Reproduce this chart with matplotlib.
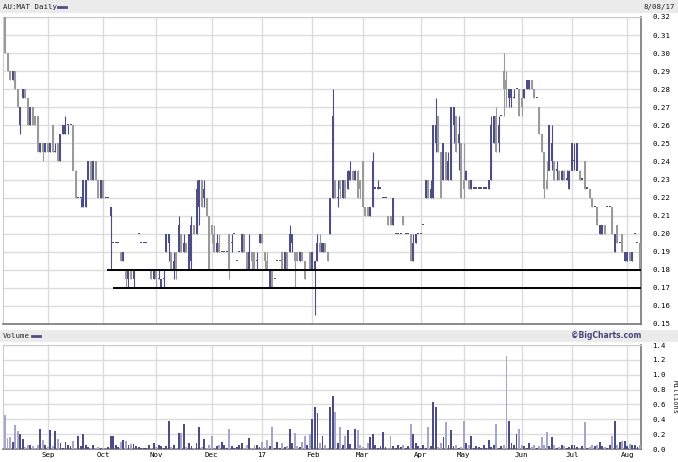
import numpy as np
import matplotlib
matplotlib.use('Agg')
import matplotlib.pyplot as plt

# daily OHLC in cents, one entry per trading day (9 Aug 2016 - 8 Aug 2017)
opens = [32, 30, 29, 28.5, 29, 28, 26, 27.5, 28, 27.5,
         26, 27, 26.5, 26.5, 24.5, 25, 24.5, 25, 24.5, 26,
         24.5, 25, 24, 25.5, 25.5, 26, 26, 26, 23.5, 22,
         22, 21.5, 21.5, 23, 24, 23, 24, 23, 22, 23,
         22, 22, 21, 19.5, 19.5, 19.5, 19, 18.5, 18, 17.5,
         18, 17.5, 18, 20, 19.5, 19.5, 19.5, 18, 18, 17.5,
         18, 17.5, 17, 17.5, 19, 19.5, 19, 18, 19, 19,
         20, 19, 19.5, 18, 18.5, 20.5, 20, 21.5, 23, 22,
         22, 21, 20.5, 20, 19, 19.5, 19, 19, 19, 20,
         19.5, 20, 18.5, 19, 19, 20, 19, 18, 19, 19,
         18.5, 19.5, 20, 19, 18.5, 17, 18, 17.5, 18.5, 18.5,
         19, 18, 19, 19, 19.5, 19, 19, 18.5, 19, 18.5,
         18, 19, 18, 18, 18.5, 19.5, 19, 19.5, 19, 20,
         22, 23, 22, 23, 22, 23, 22.5, 23, 23.5, 23,
         23.5, 23, 24, 21.5, 21.5, 21, 21.5, 22.5, 22.5, 22.5,
         22, 22, 21, 21, 20.5, 20, 20, 20, 21, 20,
         20, 20, 18.5, 19.5, 20, 20, 20.5, 22, 23, 22,
         22, 25, 26.5, 24.5, 23, 24.5, 23, 23, 26, 26.5,
         25, 25, 23, 23, 23, 22.5, 22.5, 22.5, 22.5, 22.5,
         22.5, 22.5, 22.5, 23, 25, 26.5, 25, 26.5, 29, 28.5,
         27.5, 27.5, 27.5, 28, 28, 27.5, 27.5, 28, 28, 28.5,
         28, 27.5, 27, 25.5, 24.5, 23, 23.5, 24, 24, 23.5,
         23.5, 23, 23.5, 23, 22.5, 23.5, 24, 23.5, 23.5, 23,
         24, 22.5, 22.5, 22, 21.5, 21.5, 20, 20, 20.5, 21.5,
         21.5, 21.5, 19, 20.5, 19.5, 20, 18.5, 18.5, 19, 18.5,
         20, 19.5, 19.5]
highs = [32, 30, 29, 29, 29, 28, 27, 28, 28, 27.5,
         27, 27, 26.5, 26.5, 25, 25, 25, 25, 25, 26,
         25, 25, 25.5, 26, 26.5, 26, 26, 26, 23.5, 22,
         22, 23, 23, 24, 24, 24, 24, 23, 23, 23,
         22, 22, 21.5, 19.5, 19.5, 19.5, 19, 19, 18, 18,
         18, 18, 18, 20, 19.5, 19.5, 19.5, 18, 18, 18,
         18, 18, 17.5, 18, 20, 20, 19, 19, 19, 21,
         20, 20, 19.5, 20, 21, 20.5, 23, 23, 23, 23,
         22, 21, 20.5, 20.5, 20, 20, 19, 19, 19, 20,
         20, 20, 18.5, 19, 20, 20, 19, 20, 19, 19,
         19, 20, 20, 19, 19, 18, 18, 17.5, 18.5, 18.5,
         19, 19, 19, 20.5, 20, 19, 19, 19, 19, 18.5,
         18, 19, 19, 18.5, 20, 20, 19.5, 19.5, 19, 22,
         28, 23, 23, 23, 23, 23, 23.5, 24, 23.5, 23.5,
         23.5, 23, 24, 21.5, 21.5, 21.5, 24.5, 22.5, 23, 22.5,
         22, 22, 21, 21, 22, 20, 20, 20, 21, 20,
         20, 20, 20, 20, 20, 20, 20.5, 23, 23, 23,
         26, 27.5, 26.5, 24.5, 25, 24.5, 24.5, 27, 27, 26.5,
         26.5, 25, 25, 23.5, 23, 23, 22.5, 22.5, 22.5, 22.5,
         22.5, 22.5, 23, 26.5, 26.5, 27, 26.5, 26.5, 30, 29,
         28, 28, 28, 28, 28, 28, 28, 28.5, 28.5, 28.5,
         28, 27.5, 27, 25.5, 24.5, 24, 26, 26, 24, 24,
         23.5, 23.5, 23.5, 23.5, 23.5, 25, 25, 25, 23.5, 23,
         24, 22.5, 22.5, 22, 21.5, 21.5, 20.5, 20.5, 20.5, 21.5,
         21.5, 21.5, 20, 20.5, 19.5, 20, 19, 19, 19, 19,
         20, 19.5, 19.5]
lows = [30, 29, 28.5, 28.5, 28, 27, 25.5, 27.5, 27.5, 26,
        26, 26, 26, 24.5, 24.5, 24, 24.5, 24.5, 24.5, 24.5,
        24.5, 24, 24, 25.5, 25.5, 25.5, 26, 23.5, 22, 22,
        21.5, 21.5, 21.5, 23, 23, 23, 23, 22, 22, 22,
        22, 22, 18, 19.5, 19.5, 19.5, 18.5, 18.5, 17, 17,
        17.5, 17, 18, 20, 19.5, 19.5, 19.5, 18, 17.5, 17.5,
        17, 17.5, 17, 17, 19, 18.5, 18, 17.5, 17.5, 19,
        19, 19, 19, 18, 18, 20, 20, 20.5, 21.5, 21.5,
        21, 18, 19.5, 19, 19, 19, 19, 19, 19, 17.5,
        19, 20, 18.5, 19, 19, 19, 18, 18, 18, 18,
        18, 19.5, 19.5, 18, 18, 17, 17, 17.5, 18.5, 18.5,
        18, 18, 18, 19, 19, 17, 18.5, 18.5, 18.5, 17.5,
        18, 18, 18, 15.5, 18.5, 19, 19, 19, 18.5, 20,
        22, 22, 21.5, 22, 22, 22, 22.5, 23, 23, 23,
        22, 22, 21.5, 21, 21, 21, 21.5, 22.5, 22.5, 22.5,
        22, 22, 20.5, 20.5, 20.5, 20, 20, 20, 20.5, 20,
        20, 18.5, 18.5, 19.5, 20, 20, 20.5, 22, 22, 22,
        22, 24.5, 24.5, 22, 23, 23, 23, 23, 25, 24.5,
        23.5, 22, 22, 23, 22.5, 22.5, 22.5, 22.5, 22.5, 22.5,
        22.5, 22.5, 22.5, 23, 25, 24.5, 24.5, 26.5, 26.5, 27,
        27, 27, 27.5, 28, 26.5, 26.5, 27.5, 28, 28, 28,
        27.5, 27.5, 25.5, 24.5, 22, 22.5, 23.5, 23.5, 23, 23,
        23, 23, 23, 23, 22.5, 23.5, 23.5, 23.5, 23, 23,
        22.5, 22.5, 22, 21.5, 21.5, 20.5, 20, 20, 20, 21.5,
        21.5, 20, 19, 19.5, 19.5, 19, 18.5, 18.5, 18.5, 18.5,
        20, 19.5, 18]
closes = [30, 29, 28.5, 29, 28, 27, 27, 28, 27.5, 26,
          27, 26, 26, 24.5, 25, 24.5, 25, 24.5, 25, 24.5,
          24.5, 24, 25.5, 26, 26, 26, 26, 23.5, 22, 22,
          22, 23, 23, 24, 23, 24, 23, 22, 23, 22,
          22, 22, 21.5, 19.5, 19.5, 19.5, 18.5, 19, 17.5, 18,
          17.5, 18, 18, 20, 19.5, 19.5, 19.5, 18, 17.5, 18,
          17.5, 17.5, 17.5, 17.5, 20, 20, 18, 18.5, 18, 20.5,
          19, 19.5, 19, 20, 20.5, 20, 22.5, 23, 21.5, 22.5,
          21, 18, 20, 19, 19.5, 19, 19, 19, 19, 18,
          19.5, 20, 18.5, 19, 20, 19, 18, 19, 18.5, 18,
          18.5, 20, 19.5, 18.5, 18, 18, 17, 17.5, 18.5, 18.5,
          18, 19, 18, 20, 20, 18.5, 18.5, 19, 18.5, 17.5,
          18, 18, 19, 18.5, 19.5, 19, 19.5, 19, 18.5, 22,
          26.5, 22, 22, 22.5, 23, 22, 23.5, 23.5, 23, 23.5,
          22, 22.5, 21.5, 21, 21, 21.5, 24, 22.5, 22.5, 22.5,
          22, 22, 20.5, 20.5, 22, 20, 20, 20, 20.5, 20,
          20, 18.5, 19.5, 20, 20, 20, 20.5, 23, 22, 22.5,
          26, 26, 24.5, 22, 25, 23, 24, 27, 27, 24.5,
          25.5, 22, 22.5, 23.5, 22.5, 23, 22.5, 22.5, 22.5, 22.5,
          22.5, 22.5, 23, 26, 26.5, 24.5, 26, 26.5, 28, 28,
          28, 28, 27.5, 28, 26.5, 27, 28, 28.5, 28.5, 28,
          27.5, 27.5, 25.5, 24.5, 22.5, 22.5, 26, 25, 23, 23.5,
          23, 23.5, 23, 23, 23.5, 25, 24, 25, 23, 23,
          22.5, 22.5, 22, 21.5, 21.5, 20.5, 20.5, 20.5, 20, 21.5,
          21.5, 20, 20, 19.5, 19.5, 19, 19, 19, 18.5, 19,
          20, 19.5, 18]
# daily volume, millions of shares
volume = [0.46, 0.15, 0.16, 0.10, 0.32, 0.24, 0.20, 0.14, 0.03, 0.06,
          0.05, 0.04, 0.02, 0.06, 0.27, 0.12, 0.05, 0.03, 0.26, 0.04,
          0.24, 0.13, 0.08, 0.02, 0.09, 0.06, 0.04, 0.11, 0.02, 0.18,
          0.04, 0.20, 0.05, 0.03, 0.02, 0.06, 0.02, 0.03, 0.01, 0.02,
          0.00, 0.03, 0.17, 0.17, 0.05, 0.03, 0.10, 0.12, 0.11, 0.06,
          0.07, 0.07, 0.04, 0.03, 0.01, 0.02, 0.02, 0.05, 0.02, 0.08,
          0.03, 0.06, 0.04, 0.02, 0.04, 0.38, 0.03, 0.05, 0.02, 0.22,
          0.21, 0.33, 0.03, 0.08, 0.04, 0.02, 0.08, 0.30, 0.03, 0.13,
          0.02, 0.05, 0.18, 0.00, 0.04, 0.06, 0.10, 0.05, 0.02, 0.27,
          0.04, 0.02, 0.03, 0.05, 0.08, 0.02, 0.06, 0.15, 0.02, 0.06,
          0.05, 0.03, 0.09, 0.03, 0.12, 0.04, 0.30, 0.02, 0.10, 0.02,
          0.08, 0.03, 0.04, 0.27, 0.08, 0.22, 0.04, 0.03, 0.10, 0.18,
          0.06, 0.20, 0.40, 0.56, 0.48, 0.08, 0.18, 0.05, 0.02, 0.56,
          0.72, 0.50, 0.08, 0.30, 0.05, 0.18, 0.25, 0.07, 0.02, 0.27,
          0.26, 0.05, 0.03, 0.02, 0.08, 0.16, 0.20, 0.06, 0.02, 0.04,
          0.23, 0.03, 0.02, 0.18, 0.04, 0.02, 0.05, 0.03, 0.06, 0.02,
          0.04, 0.33, 0.20, 0.08, 0.04, 0.02, 0.05, 0.02, 0.30, 0.04,
          0.63, 0.56, 0.03, 0.08, 0.16, 0.36, 0.05, 0.25, 0.04, 0.06,
          0.02, 0.03, 0.38, 0.08, 0.05, 0.18, 0.02, 0.04, 0.03, 0.02,
          0.05, 0.02, 0.12, 0.03, 0.05, 0.34, 0.02, 0.04, 0.06, 1.25,
          0.38, 0.08, 0.05, 0.20, 0.27, 0.06, 0.04, 0.02, 0.08, 0.03,
          0.05, 0.02, 0.04, 0.16, 0.06, 0.23, 0.04, 0.16, 0.05, 0.02,
          0.03, 0.06, 0.04, 0.02, 0.03, 0.05, 0.06, 0.03, 0.02, 0.04,
          0.36, 0.02, 0.03, 0.05, 0.04, 0.06, 0.10, 0.04, 0.03, 0.02,
          0.05, 0.18, 0.38, 0.06, 0.10, 0.11, 0.11, 0.04, 0.07, 0.05,
          0.06, 0.03, 0.05]

month_labels = ['Sep', 'Oct', 'Nov', 'Dec', '17', 'Feb', 'Mar', 'Apr', 'May', 'Jun', 'Jul', 'Aug']
month_start = [17, 39, 60, 82, 102, 122, 142, 165, 182, 205, 225, 247]
price_ticks = [0.15, 0.16, 0.17, 0.18, 0.19, 0.20, 0.21, 0.22, 0.23, 0.24, 0.25,
               0.26, 0.27, 0.28, 0.29, 0.30, 0.31, 0.32]
vol_ticks = [0.0, 0.2, 0.4, 0.6, 0.8, 1.0, 1.2, 1.4]
# hand-drawn support lines: (start day, price)
support_lines = [(40.5, 0.18), (43, 0.17)]

UP = '#4e4e86'
DOWN = '#9a9a9a'
VOL_UP = '#4c4c86'
VOL_DOWN = '#a6a6cc'
GRID = '#dcdcdc'
MONO = 'DejaVu Sans Mono'
FS = 5.3

W, H = 678, 462
fig = plt.figure(figsize=(W / 100, H / 100), dpi=100)
fig.patch.set_facecolor('white')


def px_axes(x0, y0, x1, y1):
    return fig.add_axes([x0 / W, 1 - y1 / H, (x1 - x0) / W, (y1 - y0) / H])


o = np.array(opens) / 100
h = np.array(highs) / 100
l = np.array(lows) / 100
c = np.array(closes) / 100
v = np.array(volume)
x = np.arange(len(o))
up = c >= o
xlim = (-0.8, len(o) - 0.6)

# header bands
for y0, y1 in [(0, 13), (330, 342)]:
    band = px_axes(0, y0, W, y1)
    band.set_facecolor('#ebebeb')
    band.set_xticks([])
    band.set_yticks([])
    for s in band.spines.values():
        s.set_visible(False)

fig.text(3 / W, 1 - 7 / H, 'AU:MAT Daily', fontsize=FS, family=MONO, va='center', color='#222222')
fig.add_artist(plt.Line2D([58 / W, 66 / W], [1 - 7 / H] * 2, color=UP, lw=2))
fig.text(675 / W, 1 - 7 / H, '8/08/17', fontsize=FS, family=MONO, va='center', ha='right', color='#222222')
fig.text(3 / W, 1 - 336 / H, 'Volume', fontsize=FS, family=MONO, va='center', color='#222222')
fig.add_artist(plt.Line2D([32 / W, 40 / W], [1 - 336 / H] * 2, color=UP, lw=2))
fig.text(641 / W, 1 - 336 / H, '\u00a9BigCharts.com', fontsize=5.5, fontweight='bold',
         va='center', ha='right', color='#45457a')


def style_axes(ax):
    ax.set_xlim(*xlim)
    ax.set_xticks(month_start)
    ax.grid(True, color=GRID, lw=1)
    ax.set_axisbelow(True)
    ax.tick_params(length=0, labelsize=FS, pad=8)
    ax.yaxis.tick_right()
    ax.spines['left'].set_color('#cccccc')
    ax.spines['top'].set_color('#cccccc')
    ax.spines['right'].set_color('#777777')
    ax.spines['bottom'].set_color('#777777')
    ax.spines['right'].set_linewidth(1.2)
    ax.spines['bottom'].set_linewidth(1.2)


# price panel
ax = px_axes(3, 17, 641, 324)
style_axes(ax)
ax.set_ylim(0.15, 0.32)
ax.set_yticks(price_ticks)
ax.set_yticklabels(['%.2f' % t for t in price_ticks])
ax.set_xticklabels([])
cols = np.where(up, UP, DOWN)
ax.vlines(x, l, h, colors=cols, lw=0.8, zorder=3)
body = np.maximum(np.abs(c - o), 0.0006)
ax.bar(x, body, bottom=np.minimum(o, c), width=0.8, color=cols, lw=0, zorder=3)
for start, lvl in support_lines:
    ax.hlines(lvl, start, xlim[1], color='black', lw=1.4, zorder=4)
for lab in ax.get_yticklabels():
    lab.set_family(MONO)

# volume panel
axv = px_axes(3, 345, 641, 449)
style_axes(axv)
axv.set_ylim(0, 1.4)
axv.set_yticks(vol_ticks)
axv.set_yticklabels(['%.1f' % t for t in vol_ticks])
axv.set_xticklabels(month_labels)
axv.tick_params(axis='x', pad=2)
axv.bar(x, v, width=0.75, color=np.where(up, VOL_UP, VOL_DOWN), lw=0, zorder=3)
for lab in axv.get_yticklabels() + axv.get_xticklabels():
    lab.set_family(MONO)
fig.text(675 / W, 1 - 397 / H, 'Millions', fontsize=5, family=MONO, rotation=270,
         va='center', ha='center', color='#222222')

fig.savefig('out.png', dpi=100)
